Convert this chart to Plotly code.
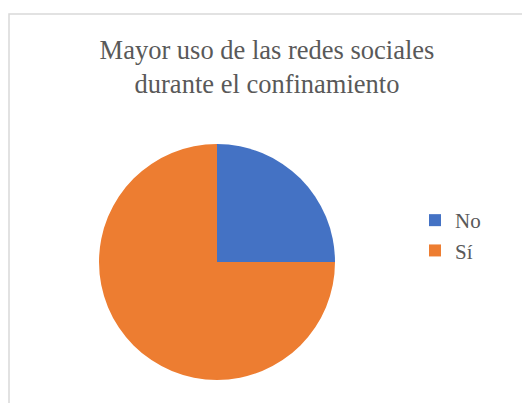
import plotly.graph_objects as go

labels = ["No", "Sí"]
values = [25, 75]
colors = ["#4472C4", "#ED7D31"]
title_text = "Mayor uso de las redes sociales<br>durante el confinamiento"

W, H = 522, 403
cx, cy, r = 217, 262, 118
SERIF = "'Liberation Serif', 'Times New Roman', 'DejaVu Serif', serif"

fig = go.Figure(go.Pie(
    labels=labels, values=values, sort=False, direction="clockwise", rotation=0,
    marker=dict(colors=colors, line=dict(width=0)),
    textinfo="none", hoverinfo="label+percent",
    domain=dict(x=[(cx - r) / W, (cx + r) / W], y=[(H - cy - r) / H, (H - cy + r) / H]),
))

fig.update_layout(
    width=W, height=H, margin=dict(l=0, r=0, t=0, b=0),
    paper_bgcolor="white",
    font=dict(family=SERIF, color="#595959"),
    title=dict(text=title_text, x=267 / W, xanchor="center", y=1 - 59 / H, yanchor="top",
               font=dict(size=26.5, color="#595959", family=SERIF)),
    legend=dict(x=415 / W, xanchor="left", y=1 - 200 / H, yanchor="top",
                font=dict(size=21, color="#595959", family=SERIF), itemwidth=30, tracegroupgap=0),
    shapes=[dict(type="rect", xref="paper", yref="paper", x0=9 / W, x1=1.1, y0=-0.1, y1=1 - 14 / H,
                 line=dict(color="#D9D9D9", width=1.5), fillcolor="rgba(0,0,0,0)", layer="below")],
)

fig.write_html("out.html")
